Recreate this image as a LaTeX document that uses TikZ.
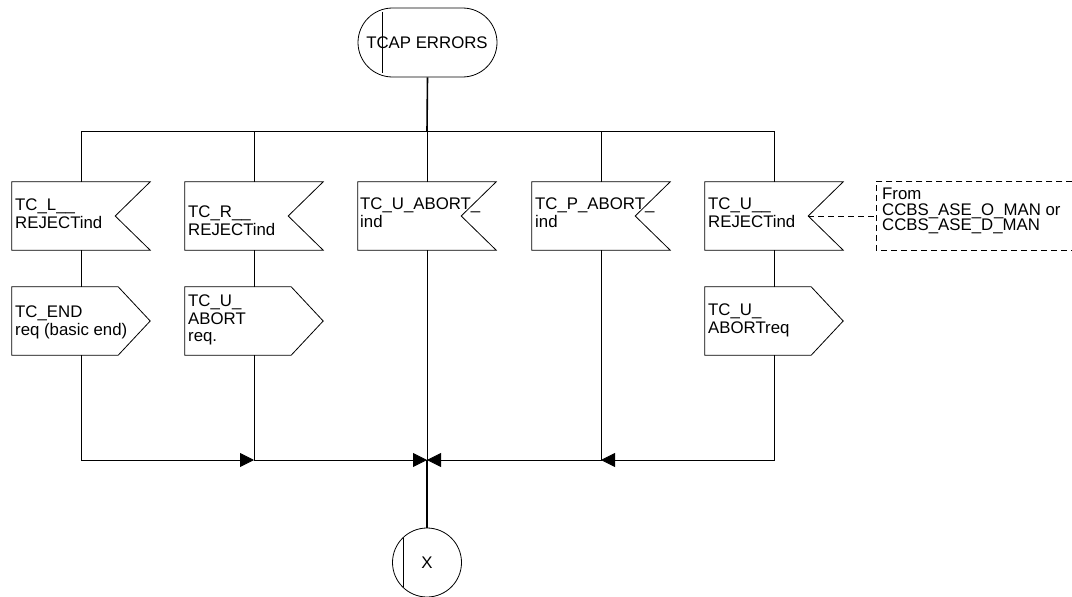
\documentclass[tikz,border=0pt]{standalone}
\usepackage{fontspec}
\setmainfont{Liberation Sans}
\usetikzlibrary{arrows.meta,calc}

% input signal: box with a notch cut into its right side
\newcommand\insig[2]{%
  \node[sigbox] (#1) at (#2) {};
  \draw[outline] (#1.north west) -- (#1.north east) -- ([xshift=-35pt]#1.east)
    -- (#1.south east) -- (#1.south west) -- cycle;}
% output signal: box with a pointed right side
\newcommand\outsig[2]{%
  \node[sigbox] (#1) at (#2) {};
  \draw[outline] (#1.north west) -- ([xshift=-32pt]#1.north east) -- (#1.east)
    -- ([xshift=-32pt]#1.south east) -- (#1.south west) -- cycle;}

\begin{document}
\begin{tikzpicture}[x=1pt,y=-1pt,
  line/.style={draw=black, line width=0.8pt},
  stem/.style={draw=black, line width=1.6pt},
  outline/.style={draw=black, line width=0.8pt, line join=miter},
  sigbox/.style={minimum width=138pt, minimum height=68pt, inner sep=0pt, draw=none},
  txt/.style={anchor=north west, inner sep=0pt, align=left,
    font=\fontsize{16.8}{17.5}\selectfont},
  notetxt/.style={txt, font=\fontsize{16.8}{15.5}\selectfont},
  flow/.style={line, -{Triangle[length=14pt,width=14pt]}},
  dashline/.style={line, dash pattern=on 6pt off 4pt}
]
\useasboundingbox (0,0) rectangle (1072,597);

% start symbol
\node[draw, line width=0.8pt, rounded corners=34.5pt, minimum width=139pt,
  minimum height=69pt, inner sep=0pt] (start) at (427.5,42.5) {};
\draw[line] ([xshift=25pt,yshift=-4pt]start.north west) -- ([xshift=25pt,yshift=4pt]start.south west);
\node[inner sep=0pt, font=\fontsize{16.8}{17.5}\selectfont] (starttxt) at (427,43) {TCAP ERRORS};

% branch points
\coordinate (top1) at (81,131);
\coordinate (top2) at (254,131);
\coordinate (top3) at (427,131);
\coordinate (top4) at (601,131);
\coordinate (top5) at (774,131);
\coordinate (bot2) at (254,460);
\coordinate (bot3) at (427,460);
\coordinate (bot4) at (601,460);

% signals
\insig{in1}{81,216}
\insig{in2}{254,216}
\insig{in3}{427,216}
\insig{in4}{601,216}
\insig{in5}{774,216}
\outsig{out1}{81,321}
\outsig{out2}{254,321}
\outsig{out5}{774,321}

\node[txt] (tin1) at (15,199) {TC\_L\_\_\\REJECTind};
\node[txt] (tin2) at (188,206) {TC\_R\_\_\\REJECTind};
\node[txt] (tin3) at (360,198) {TC\_U\_ABORT\_\\ind};
\node[txt] (tin4) at (535,198) {TC\_P\_ABORT\_\\ind};
\node[txt] (tin5) at (708,198) {TC\_U\_\_\\REJECTind};
\node[txt] (tout1) at (15,306) {TC\_END\\req (basic end)};
\node[txt] (tout2) at (188,295) {TC\_U\_\\ABORT\\req.};
\node[txt] (tout5) at (708,304) {TC\_U\_\\ABORTreq};

% comment
\node[minimum width=196pt, minimum height=68pt, inner sep=0pt, anchor=west] (note) at (876,216) {};
\draw[dashline] (note.north east) -- (note.north west) -- (note.south west) -- (note.south east);
\draw[dashline] ([xshift=-35pt]in5.east) -- (note.west);
\node[notetxt] (notetext) at (882,188) {From\\CCBS\_ASE\_O\_MAN or\\CCBS\_ASE\_D\_MAN};

% connector
\node[draw, line width=0.8pt, circle, minimum size=69pt, inner sep=0pt,
  font=\fontsize{16.8}{17.5}\selectfont] (conn) at (427,562.5) {X};
\draw[line] ([xshift=-24pt,yshift=24.5pt]conn.center) -- ([xshift=-24pt,yshift=-24.5pt]conn.center);

% flow lines
\draw[stem] (start.south) -- (top3);
\draw[line] (top1) -- (top5);
\draw[line] (top1) -- (in1.north);
\draw[line] (top2) -- (in2.north);
\draw[line] (top3) -- (in3.north);
\draw[line] (top4) -- (in4.north);
\draw[line] (top5) -- (in5.north);
\draw[line] (in1.south) -- (out1.north);
\draw[line] (in2.south) -- (out2.north);
\draw[line] (in5.south) -- (out5.north);
\draw[flow] (out1.south) |- (bot2);
\draw[flow] (out2.south) |- (bot3);
\draw[line] (in3.south) -- (bot3);
\draw[flow] (in4.south) |- (bot3);
\draw[flow] (out5.south) |- (bot4);
\draw[stem] (bot3) -- (conn.north);
\end{tikzpicture}
\end{document}
